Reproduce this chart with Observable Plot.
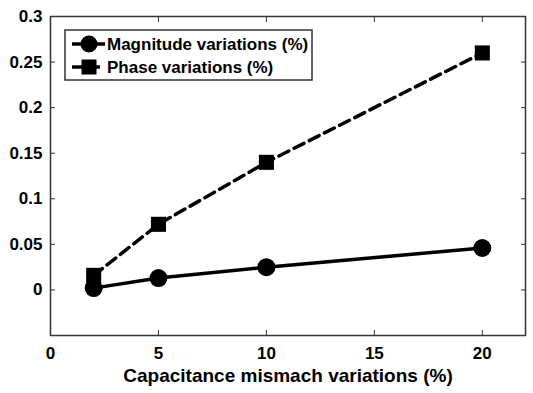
<!DOCTYPE html>
<html><head><meta charset="utf-8">
<script src="https://cdn.jsdelivr.net/npm/d3@7"></script>
<script src="https://cdn.jsdelivr.net/npm/@observablehq/plot@0.6"></script>
<style>body{margin:0;background:#fff}</style>
</head><body><div id="chart"></div>
<script>
const mismatch = [2, 5, 10, 20];
const magnitude = [0.002, 0.013, 0.025, 0.046];
const phase = [0.016, 0.072, 0.14, 0.26];
const seriesNames = ["Magnitude variations (%)", "Phase variations (%)"];
const xTicks = [0, 5, 10, 15, 20];
const yTicks = [-0.05, 0, 0.05, 0.1, 0.15, 0.2, 0.25, 0.3];
const xLabel = "Capacitance mismach variations (%)";

const magData = mismatch.map((x, i) => ({x, y: magnitude[i]}));
const phData = mismatch.map((x, i) => ({x, y: phase[i]}));
const font = "Liberation Sans, Arial, sans-serif";

const plot = Plot.plot({
  width: 533, height: 393,
  marginLeft: 50, marginRight: 8, marginTop: 16, marginBottom: 58,
  style: {fontFamily: font, fontWeight: "bold", fontSize: "17px", color: "#000", background: "#fff"},
  x: {domain: [0, 22]},
  y: {domain: [-0.05, 0.3]},
  marks: [
    Plot.frame({stroke: "#333", strokeWidth: 1.5}),
    Plot.axisX(xTicks, {anchor: "bottom", tickSize: -5, tickPadding: 16, tickFormat: d => String(d), label: null, stroke: "#333"}),
    Plot.axisX(xTicks, {anchor: "top", tickSize: -5, tickFormat: null, label: null, text: null, stroke: "#333"}),
    Plot.axisY(yTicks, {anchor: "left", tickSize: -5, tickPadding: 13, tickFormat: d => d === -0.05 ? "" : String(+d.toFixed(2)), label: null, stroke: "#333"}),
    Plot.axisY(yTicks, {anchor: "right", tickSize: -5, tickFormat: null, label: null, text: null, stroke: "#333"}),
    Plot.line(phData, {x: "x", y: "y", stroke: "#000", strokeWidth: 3.5, strokeDasharray: "11,6"}),
    Plot.line(magData, {x: "x", y: "y", stroke: "#000", strokeWidth: 3.5}),
    Plot.dot(phData, {x: "x", y: "y", symbol: "square", r: 8.5, fill: "#000"}),
    Plot.dot(magData, {x: "x", y: "y", symbol: "circle", r: 9, fill: "#000"}),
    Plot.text([xLabel], {frameAnchor: "bottom", dy: 46, fontSize: 19, fontWeight: "bold", fill: "#000"})
  ]
});
document.getElementById("chart").appendChild(plot);

// legend inside the plot area
const svg = d3.select(plot);
const lg = svg.append("g").attr("font-family", font).attr("font-weight", "bold").attr("font-size", 17).attr("text-anchor", "start");
lg.append("rect").attr("x", 65).attr("y", 30).attr("width", 247).attr("height", 50)
  .attr("fill", "#fff").attr("stroke", "#333").attr("stroke-width", 1.5);
seriesNames.forEach((name, i) => {
  const cy = 44 + i * 23;
  lg.append("line").attr("x1", 72).attr("x2", 105).attr("y1", cy).attr("y2", cy)
    .attr("stroke", "#000").attr("stroke-width", 3.5).attr("stroke-dasharray", i ? "11,6" : null);
  if (i === 0) lg.append("circle").attr("cx", 89).attr("cy", cy).attr("r", 8.5).attr("fill", "#000");
  else lg.append("rect").attr("x", 81.5).attr("y", cy - 7.5).attr("width", 15).attr("height", 15).attr("fill", "#000");
  lg.append("text").attr("x", 107).attr("y", cy).attr("dy", "0.35em").attr("fill", "#000").attr("text-anchor", "start").text(name);
});
</script></body></html>
